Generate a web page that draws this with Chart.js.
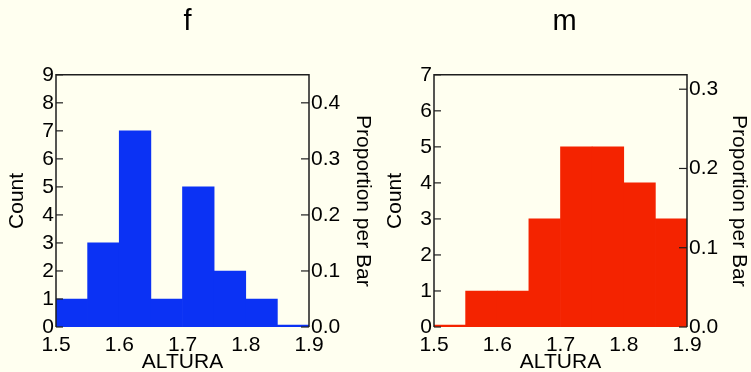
<!DOCTYPE html>
<html>
<head>
<meta charset="utf-8">
<script src="https://cdn.jsdelivr.net/npm/chart.js@4.4.1/dist/chart.umd.min.js"></script>
<style>
    html, body { margin: 0; padding: 0; background: #fffff0; }
    #wrap { position: relative; width: 751px; height: 372px; overflow: hidden; }
    canvas { position: absolute; top: 0; }
</style>
</head>
<body>
<div id="wrap">
    <canvas id="chart-f" width="375" height="372" style="left:0px"></canvas>
    <canvas id="chart-m" width="373" height="372" style="left:378px"></canvas>
</div>
<script>
// bin centres of ALTURA (width 0.05, from 1.5 to 1.9)
const alturaBins = [1.525, 1.575, 1.625, 1.675, 1.725, 1.775, 1.825, 1.875];
const countsF = [1, 3, 7, 1, 5, 2, 1, 0];
const countsM = [0, 1, 1, 3, 5, 5, 4, 3];
const xTicks = [1.5, 1.6, 1.7, 1.8, 1.9];

const FONT = "'Liberation Sans', Arial, sans-serif";
const AXIS_COLOR = "#1e1e1e";

// frame and inward tick marks
const framePlugin = {
    id: "frame",
    afterDatasetsDraw(chart) {
        let ctx = chart.ctx;
        let area = chart.chartArea;
        ctx.save();
        ctx.strokeStyle = AXIS_COLOR;
        ctx.lineWidth = 1.5;
        ctx.beginPath();
        ctx.moveTo(area.left, area.bottom);
        ctx.lineTo(area.left, area.top);
        ctx.lineTo(area.right, area.top);
        ctx.lineTo(area.right, area.bottom);
        ctx.stroke();

        ctx.lineWidth = 1.2;
        chart.scales.y.ticks.forEach(function (t) {
            let y = chart.scales.y.getPixelForValue(t.value);
            ctx.beginPath();
            ctx.moveTo(area.left, y);
            ctx.lineTo(area.left + 7, y);
            ctx.stroke();
        });
        chart.scales.y2.ticks.forEach(function (t) {
            let y = chart.scales.y2.getPixelForValue(t.value);
            ctx.beginPath();
            ctx.moveTo(area.right - 8, y);
            ctx.lineTo(area.right, y);
            ctx.stroke();
        });
        ctx.restore();
    }
};

function makeHistogram(canvasId, title, counts, color, yMax, leftWidth, rightWidth) {
    let total = counts.reduce(function (a, b) { return a + b; }, 0);
    let points = alturaBins.map(function (x, i) { return {x: x, y: counts[i]}; });

    return new Chart(document.getElementById(canvasId), {
        type: "bar",
        data: {
            datasets: [{
                data: points,
                backgroundColor: color,
                borderWidth: 0,
                minBarLength: 2,
                barPercentage: 1,
                categoryPercentage: 1
            }]
        },
        options: {
            responsive: false,
            animation: false,
            layout: {padding: 0},
            plugins: {
                legend: {display: false},
                tooltip: {enabled: false},
                title: {
                    display: true,
                    text: title,
                    color: "#000",
                    font: {family: FONT, size: 29, weight: "normal"},
                    padding: {top: 5, bottom: 35}
                }
            },
            scales: {
                x: {
                    type: "linear",
                    min: 1.5,
                    max: 1.9,
                    offset: false,
                    afterBuildTicks: function (scale) {
                        scale.ticks = xTicks.map(function (v) { return {value: v}; });
                    },
                    afterFit: function (scale) { scale.height = 45; },
                    grid: {display: false, drawTicks: false},
                    border: {display: false},
                    ticks: {
                        color: "#000",
                        font: {family: FONT, size: 21},
                        padding: 6,
                        maxRotation: 0,
                        autoSkip: false,
                        callback: function (v) { return v.toFixed(1); }
                    },
                    title: {
                        display: true,
                        text: "ALTURA",
                        color: "#000",
                        font: {family: FONT, size: 21},
                        padding: {top: 0, bottom: -3}
                    }
                },
                y: {
                    position: "left",
                    min: 0,
                    max: yMax,
                    afterFit: function (scale) { scale.width = leftWidth; },
                    grid: {display: false, drawTicks: false},
                    border: {display: false},
                    ticks: {
                        stepSize: 1,
                        autoSkip: false,
                        color: "#000",
                        font: {family: FONT, size: 21},
                        padding: 2
                    },
                    title: {
                        display: true,
                        text: "Count",
                        color: "#000",
                        font: {family: FONT, size: 21},
                        padding: {top: 5, bottom: 0}
                    }
                },
                y2: {
                    position: "right",
                    min: 0,
                    max: yMax / total,
                    afterFit: function (scale) { scale.width = rightWidth; },
                    grid: {display: false, drawTicks: false},
                    border: {display: false},
                    ticks: {
                        stepSize: 0.1,
                        includeBounds: false,
                        autoSkip: false,
                        color: "#000",
                        font: {family: FONT, size: 21},
                        padding: 2,
                        callback: function (v) { return v.toFixed(1); }
                    },
                    title: {
                        display: true,
                        text: "Proportion per Bar",
                        color: "#000",
                        font: {family: FONT, size: 21},
                        padding: {top: 0, bottom: 0}
                    }
                }
            }
        },
        plugins: [framePlugin]
    });
}

makeHistogram("chart-f", "f", countsF, "#0b32f4", 9, 56, 66);
makeHistogram("chart-m", "m", countsM, "#f42300", 7, 56, 64);
</script>
</body>
</html>
